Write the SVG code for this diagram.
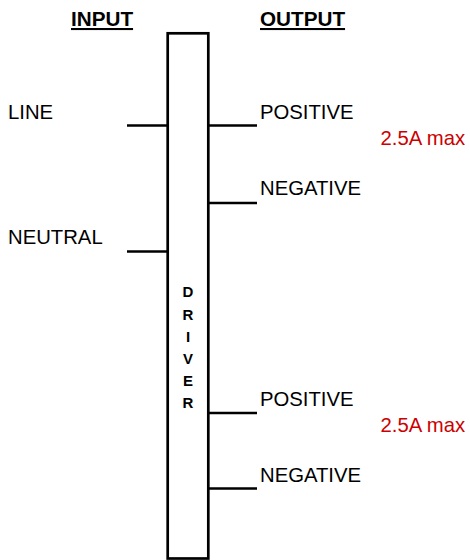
<svg xmlns="http://www.w3.org/2000/svg" width="470" height="560" viewBox="0 0 470 560">
  <style>
    text { font-family: "Liberation Sans", Arial, sans-serif; font-size: 20.3px; fill: #000; }
    .hdr { font-weight: bold; font-size: 20.7px; text-decoration: underline; }
    .red { fill: #cc0000; }
    .drv { font-weight: bold; font-size: 15px; text-anchor: middle; }
    .wire { stroke: #000; stroke-width: 2.7; fill: none; }
    .box { stroke: #000; stroke-width: 2.7; fill: #fff; }
  </style>
  <rect width="470" height="560" fill="#fff"/>
  <g id="headers">
    <text class="hdr" x="71" y="26">INPUT</text>
    <text class="hdr" x="260" y="26">OUTPUT</text>
  </g>
  <g id="connectors">
    <line class="wire" x1="127" y1="125.5" x2="168" y2="125.5"/>
    <line class="wire" x1="127" y1="251.5" x2="168" y2="251.5"/>
    <line class="wire" x1="208" y1="125.5" x2="257" y2="125.5"/>
    <line class="wire" x1="208" y1="203" x2="257" y2="203"/>
    <line class="wire" x1="208" y1="413" x2="257" y2="413"/>
    <line class="wire" x1="208" y1="488.5" x2="257" y2="488.5"/>
  </g>
  <g id="driver">
    <rect class="box" x="167.7" y="33.3" width="40.6" height="525.2"/>
    <text class="drv" x="188" y="297.3">D</text>
    <text class="drv" x="188" y="319.5">R</text>
    <text class="drv" x="188" y="341.7">I</text>
    <text class="drv" x="188" y="363.9">V</text>
    <text class="drv" x="188" y="386.1">E</text>
    <text class="drv" x="188" y="408.3">R</text>
  </g>
  <g id="in-line"><text x="8" y="119">LINE</text></g>
  <g id="in-neutral"><text x="8" y="244">NEUTRAL</text></g>
  <g id="out1-positive"><text x="260" y="118.5">POSITIVE</text></g>
  <g id="out1-limit"><text class="red" x="380.5" y="144.5">2.5A max</text></g>
  <g id="out1-negative"><text x="260" y="195">NEGATIVE</text></g>
  <g id="out2-positive"><text x="260" y="406">POSITIVE</text></g>
  <g id="out2-limit"><text class="red" x="380.5" y="432">2.5A max</text></g>
  <g id="out2-negative"><text x="260" y="481.5">NEGATIVE</text></g>
</svg>
